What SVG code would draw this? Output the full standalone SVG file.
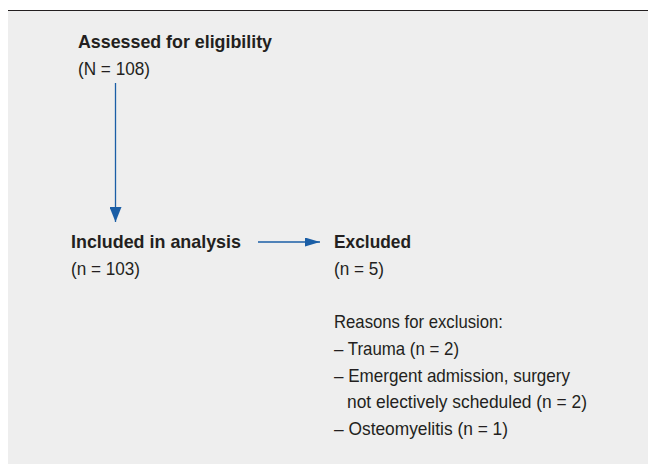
<svg xmlns="http://www.w3.org/2000/svg" width="648" height="464" viewBox="0 0 648 464">
<style>
.t{font-family:"Liberation Sans",Arial,sans-serif;fill:#231f20}
.b{font-weight:bold;font-size:18.5px}
.r{font-size:18.5px}
.c{stroke:#1a5ea6;stroke-width:1.3;fill:none}
</style>
<defs>
<marker id="ah" markerWidth="15" markerHeight="9" refX="15" refY="4.5" orient="auto" markerUnits="userSpaceOnUse">
<path d="M0,0 L15,4.5 L0,9 Z" fill="#1a5ea6"/>
</marker>
<marker id="av" markerWidth="15" markerHeight="12" refX="15" refY="6" orient="auto" markerUnits="userSpaceOnUse">
<path d="M0,0 L15,6 L0,12 Z" fill="#1a5ea6"/>
</marker>
</defs>
<rect x="0" y="0" width="648" height="464" fill="#ffffff"/>
<rect x="8" y="10" width="640" height="454" fill="#eeeeee"/>
<line x1="8" y1="10.5" x2="648" y2="10.5" stroke="#231f20" stroke-width="1.2"/>
<g id="connectors">
<line class="c" x1="115.5" y1="83" x2="115.5" y2="222" marker-end="url(#av)"/>
<line class="c" x1="258" y1="242" x2="320" y2="242" marker-end="url(#ah)"/>
</g>
<g id="assessed">
<text class="t b" x="78" y="48" textLength="194" lengthAdjust="spacingAndGlyphs">Assessed for eligibility</text>
<text class="t r" x="78" y="75" textLength="72" lengthAdjust="spacingAndGlyphs">(N = 108)</text>
</g>
<g id="included">
<text class="t b" x="71" y="248" textLength="170" lengthAdjust="spacingAndGlyphs">Included in analysis</text>
<text class="t r" x="71" y="275" textLength="69" lengthAdjust="spacingAndGlyphs">(n = 103)</text>
</g>
<g id="excluded">
<text class="t b" x="334" y="248" textLength="77" lengthAdjust="spacingAndGlyphs">Excluded</text>
<text class="t r" x="334" y="275" textLength="50" lengthAdjust="spacingAndGlyphs">(n = 5)</text>
<text class="t r" x="334" y="328" textLength="169" lengthAdjust="spacingAndGlyphs">Reasons for exclusion:</text>
<text class="t r" x="334" y="355" textLength="125" lengthAdjust="spacingAndGlyphs">– Trauma (n = 2)</text>
<text class="t r" x="334" y="382" textLength="236" lengthAdjust="spacingAndGlyphs">– Emergent admission, surgery</text>
<text class="t r" x="347" y="408" textLength="240" lengthAdjust="spacingAndGlyphs">not electively scheduled (n = 2)</text>
<text class="t r" x="334" y="435" textLength="174" lengthAdjust="spacingAndGlyphs">– Osteomyelitis (n = 1)</text>
</g>
</svg>
